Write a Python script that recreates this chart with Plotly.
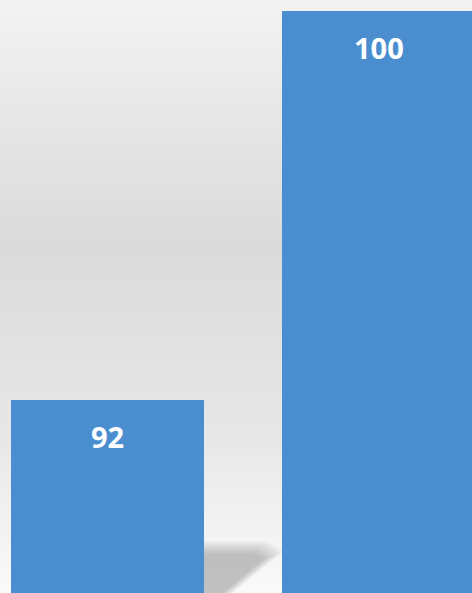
import plotly.graph_objects as go

# データ
categories = ["A", "B"]
values = [92, 100]
labels = ["92", "100"]

W, H = 472, 593

fig = go.Figure()

fig.add_trace(go.Bar(
    x=[0, 1],
    y=values,
    width=0.712,
    marker=dict(color="#4a8ed0", line=dict(width=0)),
    hoverinfo="skip",
))

# 値ラベル（バー上端から少し下）
for i, (v, t) in enumerate(zip(values, labels)):
    fig.add_annotation(
        x=i, y=v, text=f"<b>{t}</b>", showarrow=False,
        yshift=-36, yanchor="middle",
        font=dict(family="Open Sans", size=29, color="white"),
    )


def lerp(a, b, t):
    return a + (b - a) * t


# 背景のグラデーション
stops = [(0.0, 243), (0.42, 218), (0.75, 232), (1.0, 250)]
n = 120
shapes = []
for k in range(n):
    f = (k + 0.5) / n
    for (p0, c0), (p1, c1) in zip(stops[:-1], stops[1:]):
        if p0 <= f <= p1:
            c = int(round(lerp(c0, c1, (f - p0) / (p1 - p0))))
            break
    shapes.append(dict(
        type="rect", xref="paper", yref="paper",
        x0=0, x1=1, y0=1 - (k + 1) / n, y1=1 - k / n + 0.002,
        fillcolor=f"rgb({c},{c},{c})", line=dict(width=0), layer="below",
    ))

# バーの影（ぼかし風）
for s in range(9):
    d = s * 1.6
    pts = [(204, 541 + d), (266 - d, 541 + d), (284 - d * 1.6, 551 + d * 0.6),
           (224 - d * 0.4, 600 - d * 0.3), (204, 600)]
    path = "M " + " L ".join(f"{x / W:.4f},{1 - y / H:.4f}" for x, y in pts) + " Z"
    shapes.append(dict(
        type="path", xref="paper", yref="paper", path=path,
        fillcolor="rgba(60,60,60,0.035)", line=dict(width=0), layer="below",
    ))

fig.update_layout(
    width=W, height=H,
    margin=dict(l=0, r=0, t=0, b=0),
    paper_bgcolor="white",
    plot_bgcolor="rgba(0,0,0,0)",
    showlegend=False,
    shapes=shapes,
    xaxis=dict(range=[-0.397, 1.345], visible=False, fixedrange=True),
    yaxis=dict(range=[88.03, 100.23], visible=False, fixedrange=True),
    bargap=0,
)

fig.write_html(
    "out.html",
    config={"displayModeBar": False},
    post_script="document.body.style.margin='0';",
)
